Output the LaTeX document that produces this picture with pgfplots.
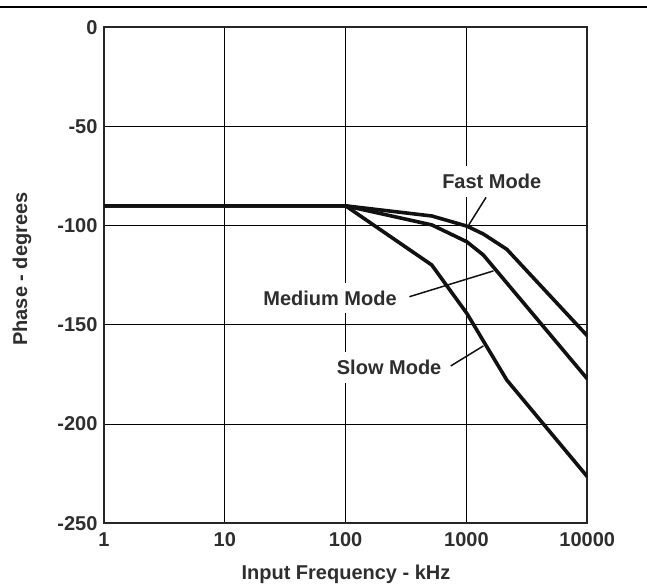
\documentclass[border=0pt]{standalone}
\usepackage{fontspec}
\setmainfont{Liberation Sans}
\usepackage{pgfplots}
\pgfplotsset{compat=1.18}
\definecolor{txt}{HTML}{2E2E2E}
\definecolor{crv}{HTML}{111111}
\tikzset{annot/.style={font=\bfseries\fontsize{20bp}{24bp}\selectfont, text=txt, fill=white, inner xsep=4bp, inner ysep=8bp}}
\begin{document}
\begin{tikzpicture}
\path[use as bounding box] (0,0) rectangle (647bp,586bp);
\draw[line width=2bp, black] (0,578.7bp) -- (647bp,578.7bp);
\begin{axis}[
  at={(104bp,62.7bp)}, anchor=south west,
  scale only axis, width=483.3bp, height=496bp,
  xmode=log, xmin=1, xmax=10000, ymin=-250, ymax=0,
  xtick={1,10,100,1000,10000}, xticklabels={1,10,100,1000,10000},
  ytick={-250,-200,-150,-100,-50,0}, yticklabels={-250,-200,-150,-100,-50,0},
  minor tick num=0, minor tick length=0pt,
  grid=major, major grid style={line width=1bp, black},
  major tick length=0pt,
  axis line style={line width=2bp, draw=black!85},
  tick label style={font=\bfseries\fontsize{20bp}{21bp}\selectfont, text=txt},
  xticklabel style={yshift=-6bp},
  yticklabel style={xshift=-3bp},
  /pgf/number format/assume math mode=true,
  xlabel={Input Frequency - kHz}, ylabel={Phase - degrees},
  label style={font=\bfseries\fontsize{20bp}{24bp}\selectfont, text=txt},
  xlabel style={at={(axis description cs:0.5007,-0.1123)}, anchor=base},
  ylabel style={at={(axis description cs:-0.1697,0.5127)}, anchor=center},
  every axis plot/.append style={line join=round},
]
% Fast mode
\addplot[crv, line width=3.6bp] coordinates {(1,-90)(100,-90)(516,-95.1)(1007,-100.2)(1380,-104.2)(2157,-111.9)(10000,-155.5)};
% Medium mode
\addplot[crv, line width=3.6bp] coordinates {(1,-90)(100,-90)(516,-99.6)(1007,-108.1)(1380,-114.8)(10000,-177.2)};
% Slow mode
\addplot[crv, line width=3.6bp] coordinates {(1,-90)(100,-90)(516,-119.8)(1007,-144.2)(2157,-177.8)(10000,-226.5)};
\node[annot] at (axis cs:1618,-77.8) {Fast Mode};
\node[annot] at (axis cs:74.3,-136.4) {Medium Mode};
\node[annot] at (axis cs:229,-171.6) {Slow Mode};
% leader lines
\addplot[crv, line width=1.5bp, forget plot] coordinates {(1453,-85.7)(1045,-99.6)};
\addplot[crv, line width=1.5bp, forget plot] coordinates {(337,-135.8)(1670,-122.8)};
\addplot[crv, line width=1.5bp, forget plot] coordinates {(741,-170.7)(1380,-160.6)};
\end{axis}
\end{tikzpicture}
\end{document}
